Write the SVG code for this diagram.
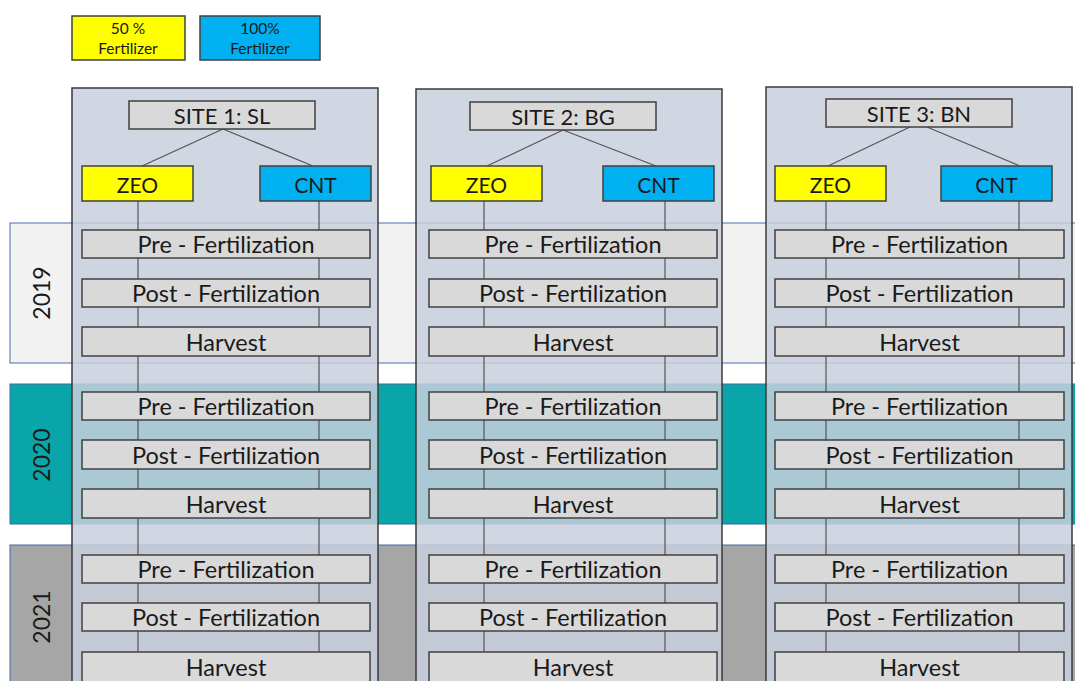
<svg xmlns="http://www.w3.org/2000/svg" width="1075" height="681" viewBox="0 0 1075 681">
<style>
.t{font-family:Lato,"Open Sans","Liberation Sans",sans-serif;fill:#1a1a1a;text-anchor:middle;dominant-baseline:central}
.box{fill:#d9d9d9;stroke:#404040;stroke-width:1.5}
.zeo{fill:#ffff00;stroke:#404040;stroke-width:1.5}
.cnt{fill:#00b0f0;stroke:#404040;stroke-width:1.5}
.panel{fill:rgb(200,207,221);fill-opacity:0.85;stroke:#3a3a3a;stroke-width:1.5}
.s{font-size:23.5px}
.h{font-size:22px}
.z{font-size:21px}
.y{font-size:23px}
.l{font-size:15.5px}
.c line{stroke:#555;stroke-width:1.2}
</style>
<rect width="1075" height="681" fill="#fff"/>
<g id="bands">
<rect x="10" y="223" width="1070" height="140" fill="#f2f2f2" stroke="#4a6cb0" stroke-width="1"/>
<rect x="10" y="384" width="1070" height="140" fill="#0aa5a8" stroke="#3d6aa8" stroke-width="1"/>
<rect x="10" y="545" width="1070" height="140" fill="#a6a6a6" stroke="#3d6aa8" stroke-width="1"/>
<text class="t y" transform="translate(41,293) rotate(-90)">2019</text>
<text class="t y" transform="translate(41,455) rotate(-90)">2020</text>
<text class="t y" transform="translate(41,617) rotate(-90)">2021</text>
</g>
<g id="legend">
<rect class="zeo" x="72" y="16" width="113" height="44"/>
<text class="t l" x="128" y="28">50 %</text>
<text class="t l" x="128" y="48">Fertilizer</text>
<rect class="cnt" x="200" y="16" width="120" height="44"/>
<text class="t l" x="260" y="28">100%</text>
<text class="t l" x="260" y="48">Fertilizer</text>
</g>
<g id="panels">
<rect class="panel" x="72" y="88" width="306" height="600"/>
<rect class="panel" x="416" y="89" width="306" height="600"/>
<rect class="panel" x="766" y="87" width="306" height="600"/>
</g>
<g id="connectors" class="c">
<line x1="223" y1="129" x2="142" y2="166"/>
<line x1="223" y1="129" x2="313" y2="166"/>
<line x1="138" y1="201" x2="138" y2="681"/>
<line x1="319" y1="201" x2="319" y2="681"/>
<line x1="563" y1="130" x2="487" y2="166"/>
<line x1="563" y1="130" x2="656" y2="166"/>
<line x1="484" y1="201" x2="484" y2="681"/>
<line x1="665" y1="201" x2="665" y2="681"/>
<line x1="910" y1="127" x2="828" y2="166"/>
<line x1="927" y1="127" x2="1020" y2="166"/>
<line x1="826" y1="201" x2="826" y2="681"/>
<line x1="1019" y1="201" x2="1019" y2="681"/>
</g>
<g id="site1">
<rect class="box" x="129" y="101" width="186" height="28"/>
<text class="t h" x="222" y="115">SITE 1: SL</text>
<g id="site1-zeo"><rect class="zeo" x="82" y="166" width="111" height="35"/><text class="t z" x="137.5" y="184">ZEO</text></g>
<g id="site1-cnt"><rect class="cnt" x="260" y="166" width="111" height="35"/><text class="t z" x="315.5" y="184">CNT</text></g>
</g>
<g id="site2">
<rect class="box" x="470" y="102" width="186" height="28"/>
<text class="t h" x="563" y="116">SITE 2: BG</text>
<g id="site2-zeo"><rect class="zeo" x="431" y="166" width="111" height="35"/><text class="t z" x="486.5" y="184">ZEO</text></g>
<g id="site2-cnt"><rect class="cnt" x="603" y="166" width="111" height="35"/><text class="t z" x="658.5" y="184">CNT</text></g>
</g>
<g id="site3">
<rect class="box" x="826" y="99" width="186" height="28"/>
<text class="t h" x="919" y="113">SITE 3: BN</text>
<g id="site3-zeo"><rect class="zeo" x="775" y="166" width="111" height="35"/><text class="t z" x="830.5" y="184">ZEO</text></g>
<g id="site3-cnt"><rect class="cnt" x="941" y="166" width="111" height="35"/><text class="t z" x="996.5" y="184">CNT</text></g>
</g>
<g id="stages-site1">
<rect class="box" x="82" y="230" width="288" height="28"/><text class="t s" x="226" y="244">Pre - Fertilization</text>
<rect class="box" x="82" y="279" width="288" height="28"/><text class="t s" x="226" y="293">Post - Fertilization</text>
<rect class="box" x="82" y="327" width="288" height="29"/><text class="t s" x="226" y="341.5">Harvest</text>
<rect class="box" x="82" y="392" width="288" height="28"/><text class="t s" x="226" y="406">Pre - Fertilization</text>
<rect class="box" x="82" y="440" width="288" height="29"/><text class="t s" x="226" y="454.5">Post - Fertilization</text>
<rect class="box" x="82" y="489" width="288" height="29"/><text class="t s" x="226" y="503.5">Harvest</text>
<rect class="box" x="82" y="555" width="288" height="28"/><text class="t s" x="226" y="569">Pre - Fertilization</text>
<rect class="box" x="82" y="603" width="288" height="28"/><text class="t s" x="226" y="617">Post - Fertilization</text>
<rect class="box" x="82" y="652" width="288" height="32"/><text class="t s" x="226" y="667">Harvest</text>
</g>
<g id="stages-site2">
<rect class="box" x="429" y="230" width="288" height="28"/><text class="t s" x="573" y="244">Pre - Fertilization</text>
<rect class="box" x="429" y="279" width="288" height="28"/><text class="t s" x="573" y="293">Post - Fertilization</text>
<rect class="box" x="429" y="327" width="288" height="29"/><text class="t s" x="573" y="341.5">Harvest</text>
<rect class="box" x="429" y="392" width="288" height="28"/><text class="t s" x="573" y="406">Pre - Fertilization</text>
<rect class="box" x="429" y="440" width="288" height="29"/><text class="t s" x="573" y="454.5">Post - Fertilization</text>
<rect class="box" x="429" y="489" width="288" height="29"/><text class="t s" x="573" y="503.5">Harvest</text>
<rect class="box" x="429" y="555" width="288" height="28"/><text class="t s" x="573" y="569">Pre - Fertilization</text>
<rect class="box" x="429" y="603" width="288" height="28"/><text class="t s" x="573" y="617">Post - Fertilization</text>
<rect class="box" x="429" y="652" width="288" height="32"/><text class="t s" x="573" y="667">Harvest</text>
</g>
<g id="stages-site3">
<rect class="box" x="775" y="230" width="289" height="28"/><text class="t s" x="919.5" y="244">Pre - Fertilization</text>
<rect class="box" x="775" y="279" width="289" height="28"/><text class="t s" x="919.5" y="293">Post - Fertilization</text>
<rect class="box" x="775" y="327" width="289" height="29"/><text class="t s" x="919.5" y="341.5">Harvest</text>
<rect class="box" x="775" y="392" width="289" height="28"/><text class="t s" x="919.5" y="406">Pre - Fertilization</text>
<rect class="box" x="775" y="440" width="289" height="29"/><text class="t s" x="919.5" y="454.5">Post - Fertilization</text>
<rect class="box" x="775" y="489" width="289" height="29"/><text class="t s" x="919.5" y="503.5">Harvest</text>
<rect class="box" x="775" y="555" width="289" height="28"/><text class="t s" x="919.5" y="569">Pre - Fertilization</text>
<rect class="box" x="775" y="603" width="289" height="28"/><text class="t s" x="919.5" y="617">Post - Fertilization</text>
<rect class="box" x="775" y="652" width="289" height="32"/><text class="t s" x="919.5" y="667">Harvest</text>
</g>
</svg>
